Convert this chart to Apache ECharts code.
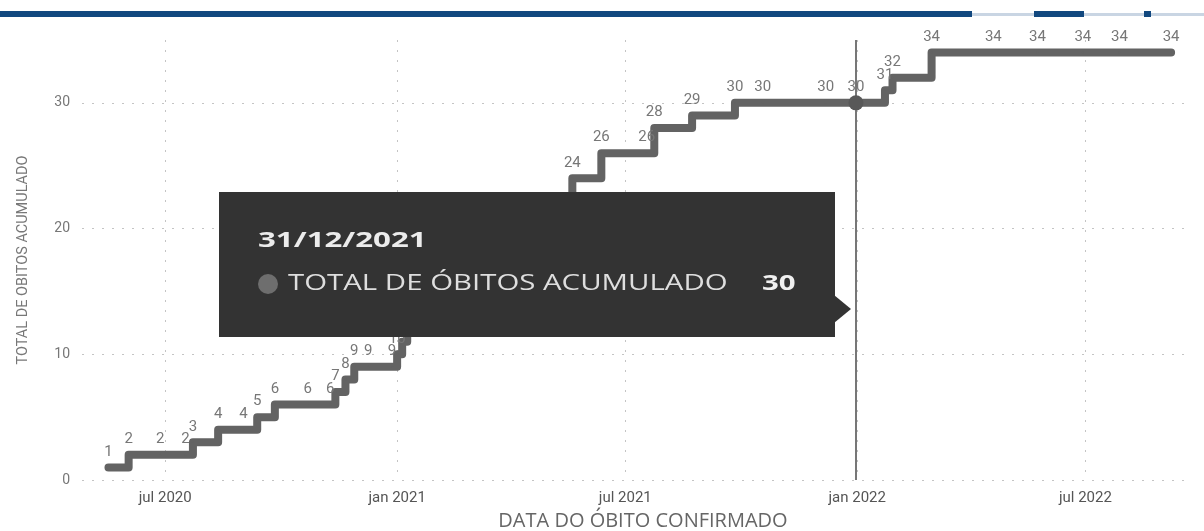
<!DOCTYPE html>
<html>
<head>
<meta charset="utf-8">
<script src="https://cdn.jsdelivr.net/npm/echarts@6/dist/echarts.min.js"></script>
<style>
  html, body { margin: 0; padding: 0; background: #fff; }
  #chart { width: 1204px; height: 531px; }
</style>
</head>
<body>
<div id="chart"></div>
<script>
// datas dos óbitos confirmados e total acumulado
var dates = [
  '2020-05-17', '2020-06-02', '2020-06-27', '2020-07-17', '2020-07-23', '2020-08-12',
  '2020-09-01', '2020-09-12', '2020-09-26', '2020-10-22', '2020-11-09', '2020-11-13',
  '2020-11-21', '2020-11-28', '2020-12-09', '2020-12-28', '2021-01-01', '2021-01-05',
  '2021-01-09', '2021-01-28', '2021-02-16', '2021-03-04', '2021-03-17', '2021-03-29',
  '2021-04-10', '2021-04-23', '2021-05-06',
  '2021-05-20', '2021-06-12', '2021-07-18', '2021-07-24', '2021-08-23', '2021-09-26',
  '2021-10-18', '2021-12-07', '2021-12-31', '2022-01-23', '2022-01-29', '2022-03-01',
  '2022-04-19', '2022-05-24', '2022-06-29', '2022-07-28', '2022-09-07'
];
var totals = [
  1, 2, 2, 2, 3, 4,
  4, 5, 6, 6, 6, 7,
  8, 9, 9, 9, 10, 11,
  12, 13, 14, 15, 16, 17,
  18, 19, 20,
  24, 26, 26, 28, 29, 30,
  30, 30, 30, 31, 32, 34,
  34, 34, 34, 34, 34
];
var tickDates = ['2020-07-01', '2021-01-01', '2021-07-01', '2022-01-01', '2022-07-01'];
var tickLabels = ['jul 2020', 'jan 2021', 'jul 2021', 'jan 2022', 'jul 2022'];
var yTicks = [0, 10, 20, 30];
var xRange = ['2020-04-26', '2022-09-22'];
var yMax = 35;
var tooltipDate = '2021-12-31';
var serieName = 'TOTAL DE ÓBITOS ACUMULADO';

function ts(s) {
  var p = s.split('-').map(Number);
  return new Date(p[0], p[1] - 1, p[2]).getTime();
}

var tickTs = tickDates.map(ts);
var points = dates.map(function (d, i) { return [ts(d), totals[i]]; });
var tipIdx = dates.indexOf(tooltipDate);
var tipValue = totals[tipIdx];
var tipParts = tooltipDate.split('-');
var tipText = tipParts[2] + '/' + tipParts[1] + '/' + tipParts[0];

var chart = echarts.init(document.getElementById('chart'));

chart.setOption({
  animation: false,
  grid: { left: 82, right: 14, top: 40, bottom: 51, outerBoundsMode: 'none' },
  xAxis: {
    // eixo de datas como timestamps, ticks semestrais
    type: 'value',
    min: ts(xRange[0]),
    max: ts(xRange[1]),
    scale: true,
    axisLine: { show: false },
    axisTick: { show: false, customValues: tickTs },
    axisLabel: {
      customValues: tickTs,
      margin: 11,
      color: '#555',
      fontSize: 15,
      fontFamily: 'Roboto',
      formatter: function (v) {
        var i = tickTs.indexOf(v);
        return i >= 0 ? tickLabels[i] : '';
      }
    },
    splitLine: {
      show: true,
      lineStyle: { color: '#c4c4c4', width: 1, type: [2, 8] }
    },
    name: 'DATA DO ÓBITO CONFIRMADO',
    nameLocation: 'middle',
    nameGap: 31,
    nameTextStyle: { color: '#666', fontSize: 20, fontFamily: 'Open Sans', padding: [0, 0, 0, 14] }
  },
  yAxis: {
    type: 'value',
    min: 0,
    max: yMax,
    axisLine: { show: false },
    axisTick: { show: false, customValues: yTicks },
    axisLabel: {
      customValues: yTicks,
      margin: 12,
      color: '#777',
      fontSize: 14,
      fontFamily: 'Roboto'
    },
    splitLine: {
      show: true,
      lineStyle: { color: '#c4c4c4', width: 1, type: [2, 8] }
    },
    name: 'TOTAL DE OBITOS ACUMULADO',
    nameLocation: 'middle',
    nameGap: 51,
    nameTextStyle: { color: '#777', fontSize: 14.5, fontFamily: 'Roboto' }
  },
  series: [
    {
      name: serieName,
      type: 'line',
      step: 'end',
      data: points,
      symbol: 'circle',
      symbolSize: 2,
      itemStyle: { color: '#636363' },
      lineStyle: { color: '#636363', width: 8, cap: 'round', join: 'round' },
      label: {
        show: true,
        position: 'top',
        distance: 7,
        color: '#777',
        fontSize: 15,
        fontFamily: 'Roboto'
      },
      emphasis: { disabled: true },
      markLine: {
        silent: true,
        symbol: 'none',
        label: { show: false },
        lineStyle: { color: '#4a4a4a', width: 1.5, type: 'solid' },
        data: [[{ coord: [ts(tooltipDate), 0] }, { coord: [ts(tooltipDate), yMax] }]]
      },
      markPoint: {
        silent: true,
        symbol: 'circle',
        symbolSize: 15,
        itemStyle: { color: '#585858' },
        label: { show: false },
        data: [{ coord: [ts(tooltipDate), tipValue] }]
      }
    }
  ],
  graphic: [
    // barra superior
    { type: 'rect', shape: { x: 0, y: 13, width: 1204, height: 3 }, style: { fill: '#c9d5e3' } },
    { type: 'rect', shape: { x: 0, y: 11, width: 972, height: 6 }, style: { fill: '#11487f' } },
    { type: 'rect', shape: { x: 1034, y: 11, width: 50, height: 6 }, style: { fill: '#11487f' } },
    { type: 'rect', shape: { x: 1144, y: 11, width: 7, height: 6 }, style: { fill: '#11487f' } },
    // tooltip
    { type: 'rect', z: 100, shape: { x: 219, y: 192, width: 616, height: 145 }, style: { fill: '#333333' } },
    { type: 'polygon', z: 100, shape: { points: [[834, 295], [851, 309], [834, 323]] }, style: { fill: '#333333' } },
    {
      type: 'text', z: 101, x: 258, y: 241, scaleX: 1.42,
      style: { text: tipText, fill: '#ececec', font: 'bold 22px "Open Sans"', verticalAlign: 'middle' }
    },
    { type: 'circle', z: 101, shape: { cx: 268, cy: 284, r: 10 }, style: { fill: '#6e6e6e' } },
    {
      type: 'text', z: 101, x: 288, y: 284, scaleX: 1.4,
      style: { text: serieName, fill: '#dedede', font: '21px "Open Sans"', verticalAlign: 'middle' }
    },
    {
      type: 'text', z: 101, x: 762, y: 284, scaleX: 1.4,
      style: { text: String(tipValue), fill: '#f0f0f0', font: 'bold 21px "Open Sans"', verticalAlign: 'middle' }
    }
  ]
});
</script>
</body>
</html>
